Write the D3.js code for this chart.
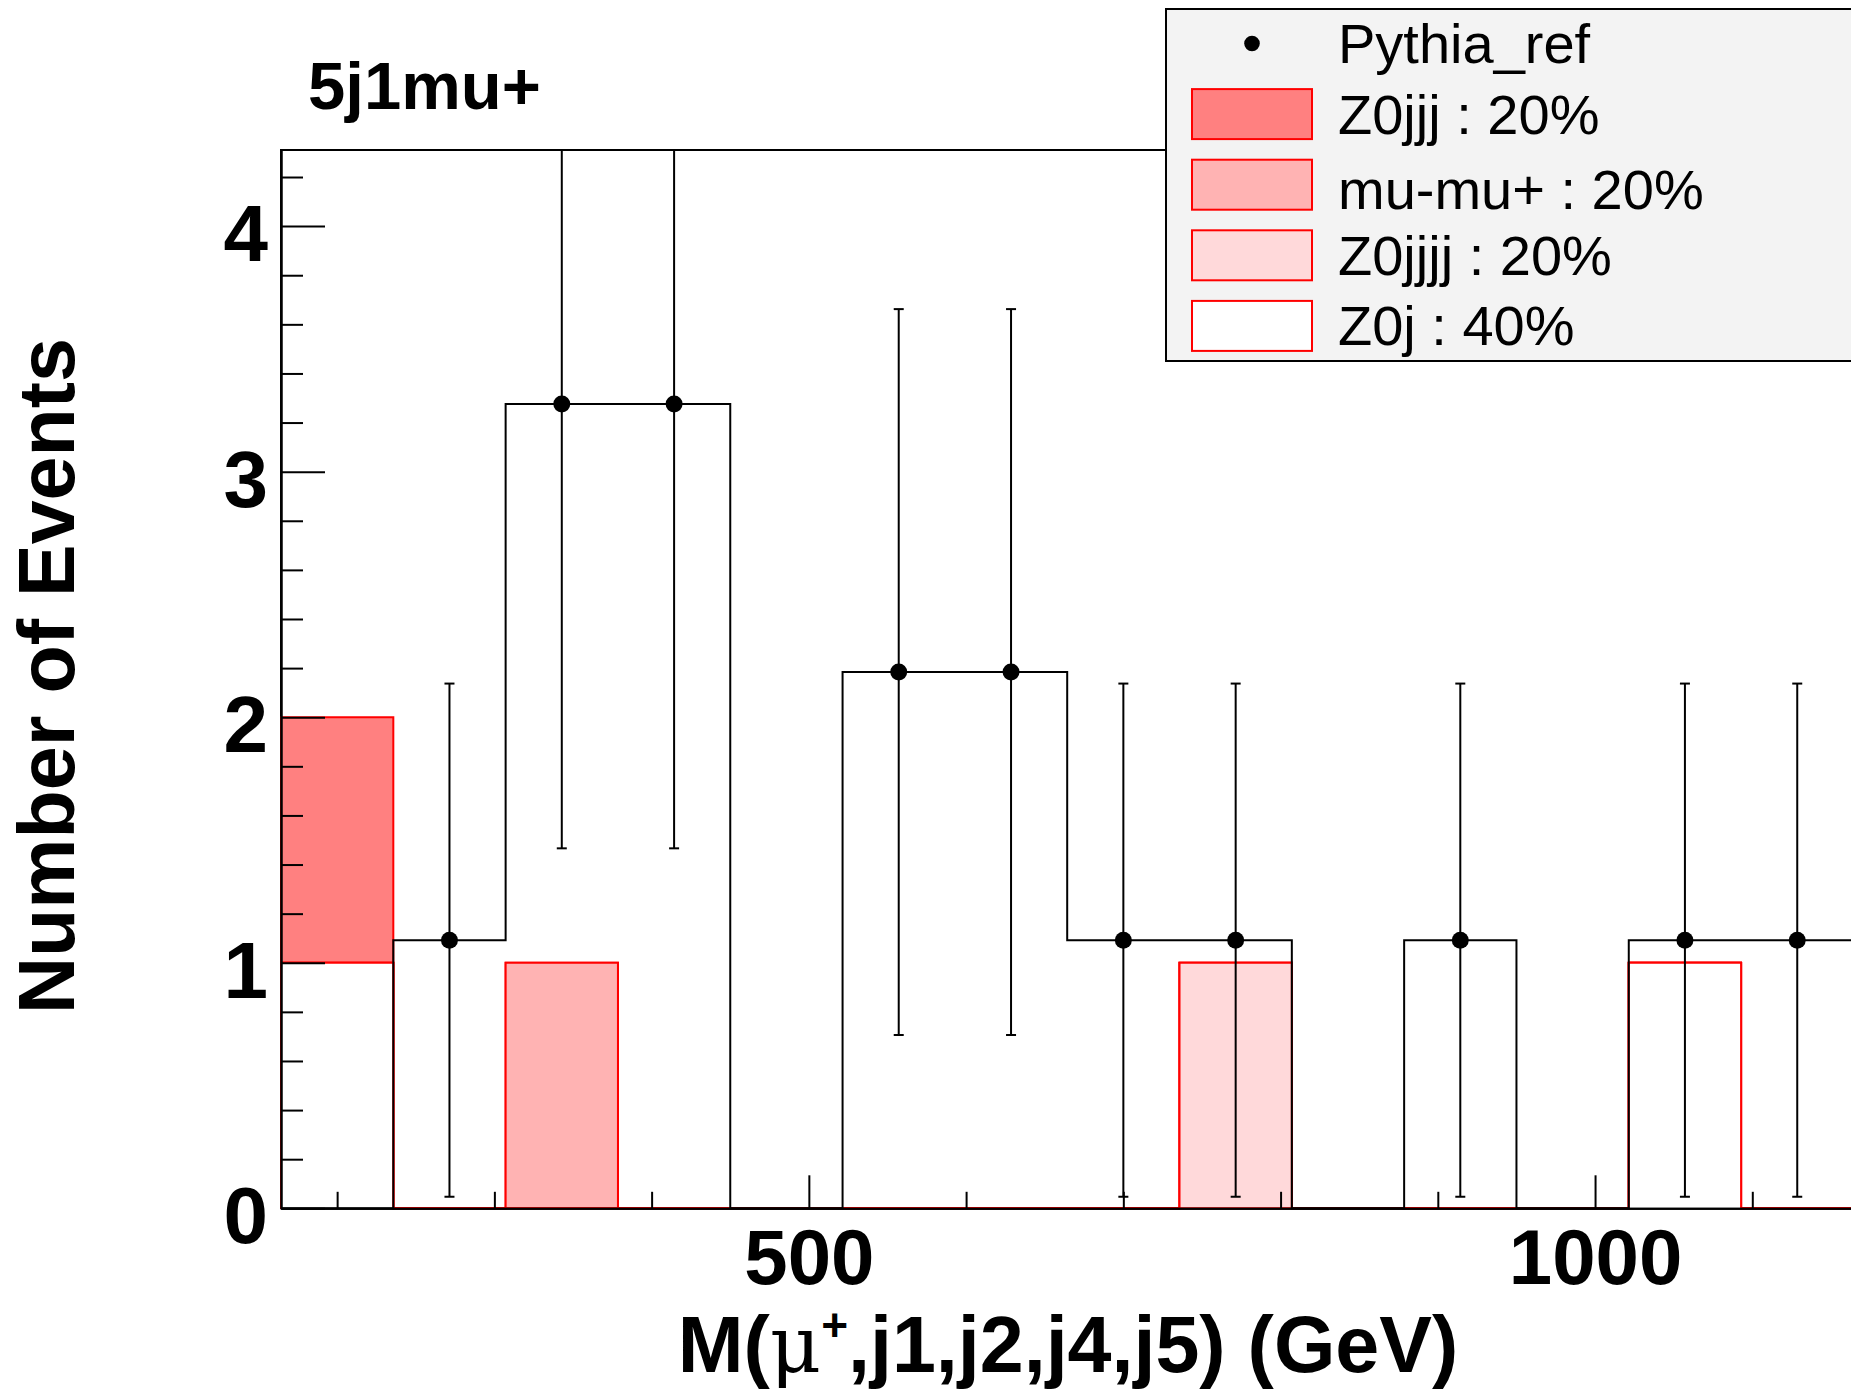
<!DOCTYPE html>
<html><head><meta charset="utf-8">
<script src="https://cdn.jsdelivr.net/npm/d3@7"></script>
<style>body{margin:0;background:#fff;} svg{display:block;}</style>
</head><body>
<svg id="c" width="1851" height="1392"></svg>
<script>
// ---------------- data ----------------
const binCount = 14;
const xDomain = [164.3, 1164.3];
const yDomain = [0, 4.31];
const dataCounts = [0, 1.092, 3.276, 3.276, 0, 2.184, 2.184, 1.092, 1.092, 0, 1.092, 0, 1.092, 1.092];
const dataErrors = [0, 1.045, 1.81, 1.81, 0, 1.478, 1.478, 1.045, 1.045, 0, 1.045, 0, 1.045, 1.045];
const z0j    = [1, 0, 0, 0, 0, 0, 0, 0, 0, 0, 0, 0, 1, 0];
const z0jjjj = [0, 0, 0, 0, 0, 0, 0, 0, 1, 0, 0, 0, 0, 0];
const mumu   = [0, 0, 1, 0, 0, 0, 0, 0, 0, 0, 0, 0, 0, 0];
const z0jjj  = [1, 0, 0, 0, 0, 0, 0, 0, 0, 0, 0, 0, 0, 0];
const stackKeys = ["Z0j", "Z0jjjj", "mu-mu+", "Z0jjj"];           // bottom -> top
const stackFills = {"Z0j": "#ffffff", "Z0jjjj": "#ffd9da", "mu-mu+": "#ffb3b3", "Z0jjj": "#ff8080"};
const legendLabels = ["Pythia_ref", "Z0jjj : 20%", "mu-mu+ : 20%", "Z0jjjj : 20%", "Z0j : 40%"];
const legendKeys = [null, "Z0jjj", "mu-mu+", "Z0jjjj", "Z0j"];
const xMajorTicks = [500, 1000];
const xMinorTicks = [200, 300, 400, 600, 700, 800, 900, 1100];
const yMajorTicks = [0, 1, 2, 3, 4];
const yMinorTicks = [0.2, 0.4, 0.6, 0.8, 1.2, 1.4, 1.6, 1.8, 2.2, 2.4, 2.6, 2.8, 3.2, 3.4, 3.6, 3.8, 4.2];

// ---------------- layout ----------------
const L = 281, R = 1853.4, T = 150, B = 1208.3;
const svg = d3.select("#c");
const x = d3.scaleLinear().domain(xDomain).range([L, R]);
const y = d3.scaleLinear().domain(yDomain).range([B, T]);
const binW = (xDomain[1] - xDomain[0]) / binCount;
const edge = i => xDomain[0] + i * binW;
const center = i => xDomain[0] + (i + 0.5) * binW;

svg.append("defs").append("clipPath").attr("id", "plotclip")
  .append("rect").attr("x", L - 2).attr("y", T).attr("width", R - L + 4).attr("height", B - T + 2);

// frame
svg.append("rect").attr("x", L).attr("y", T).attr("width", R - L).attr("height", B - T)
  .attr("fill", "#fff").attr("stroke", "#000").attr("stroke-width", 2);

const plot = svg.append("g").attr("clip-path", "url(#plotclip)");

// stacked MC, drawn ROOT-style as cumulative histograms, top first
const rows = d3.range(binCount).map(i => ({"Z0j": z0j[i], "Z0jjjj": z0jjjj[i], "mu-mu+": mumu[i], "Z0jjj": z0jjj[i]}));
const stacked = d3.stack().keys(stackKeys)(rows);

function stepPoints(vals) {
  const pts = [[edge(0), 0]];
  vals.forEach((v, i) => { pts.push([edge(i), v]); pts.push([edge(i + 1), v]); });
  pts.push([edge(vals.length), 0]);
  return pts;
}
const line = d3.line().x(d => x(d[0])).y(d => y(d[1]));

for (let k = stacked.length - 1; k >= 0; k--) {
  const layer = stacked[k];
  const tops = layer.map(d => d[1]);
  const pts = stepPoints(tops);
  plot.append("path").attr("d", line(pts) + "Z").attr("fill", stackFills[layer.key]).attr("stroke", "none");
  plot.append("path").attr("d", line(pts)).attr("fill", "none").attr("stroke", "#ff0000").attr("stroke-width", 2);
}

// data histogram outline
plot.append("path").attr("d", line(stepPoints(dataCounts))).attr("fill", "none")
  .attr("stroke", "#000").attr("stroke-width", 2);

// error bars and markers
const pts = d3.range(binCount).filter(i => dataCounts[i] > 0);
const capW = 5;
pts.forEach(i => {
  const cx = x(center(i));
  const lo = dataCounts[i] - dataErrors[i], hi = dataCounts[i] + dataErrors[i];
  plot.append("line").attr("x1", cx).attr("x2", cx).attr("y1", y(lo)).attr("y2", y(hi))
    .attr("stroke", "#000").attr("stroke-width", 2);
  [lo, hi].forEach(v => {
    plot.append("line").attr("x1", cx - capW).attr("x2", cx + capW).attr("y1", y(v)).attr("y2", y(v))
      .attr("stroke", "#000").attr("stroke-width", 2);
  });
});
plot.selectAll("circle.pt").data(pts).enter().append("circle")
  .attr("cx", i => x(center(i))).attr("cy", i => y(dataCounts[i])).attr("r", 8.5).attr("fill", "#000");

// axes
const fontSans = "'Liberation Sans', Arial, Helvetica, sans-serif";
function styleAxis(g) {
  g.select(".domain").attr("stroke", "#000").attr("stroke-width", 2);
  g.selectAll(".tick line").attr("stroke", "#000").attr("stroke-width", 2);
}
const yMinor = svg.append("g").attr("transform", `translate(${L},0)`)
  .call(d3.axisLeft(y).tickValues(yMinorTicks).tickSizeInner(-22).tickSizeOuter(0).tickFormat(""));
styleAxis(yMinor);
const yMajor = svg.append("g").attr("transform", `translate(${L},0)`)
  .call(d3.axisLeft(y).tickValues(yMajorTicks).tickSizeInner(-44).tickSizeOuter(0).tickPadding(13).tickFormat(d3.format("d")));
styleAxis(yMajor);
yMajor.selectAll(".tick text").attr("font-family", fontSans).attr("font-weight", "bold")
  .attr("font-size", 80).attr("fill", "#000").attr("dy", "0.43em");

const xMinor = svg.append("g").attr("transform", `translate(0,${B})`)
  .call(d3.axisBottom(x).tickValues(xMinorTicks).tickSizeInner(-16.5).tickSizeOuter(0).tickFormat(""));
styleAxis(xMinor);
const xMajor = svg.append("g").attr("transform", `translate(0,${B})`)
  .call(d3.axisBottom(x).tickValues(xMajorTicks).tickSizeInner(-33).tickSizeOuter(0).tickPadding(20).tickFormat(d3.format("d")));
styleAxis(xMajor);
xMajor.selectAll(".tick text").attr("font-family", fontSans).attr("font-weight", "bold")
  .attr("font-size", 78).attr("fill", "#000");

// axis titles
const xt = svg.append("text").attr("x", 1068).attr("y", 1372).attr("text-anchor", "middle")
  .attr("font-family", fontSans).attr("font-weight", "bold").attr("font-size", 79).attr("fill", "#000");
xt.append("tspan").text("M(");
xt.append("tspan").attr("font-family", "'DejaVu Serif', 'Liberation Serif', serif").attr("font-weight", "normal").text("\u03BC");
xt.append("tspan").attr("font-size", 46).attr("dy", -31).text("+");
xt.append("tspan").attr("dy", 31).text(",j1,j2,j4,j5) (GeV)");

svg.append("text").attr("transform", "translate(74,676) rotate(-90)").attr("text-anchor", "middle")
  .attr("font-family", fontSans).attr("font-weight", "bold").attr("font-size", 79).attr("fill", "#000")
  .text("Number of Events");

// title
svg.append("text").attr("x", 308).attr("y", 109).attr("font-family", fontSans).attr("font-weight", "bold")
  .attr("font-size", 67).attr("fill", "#000").text("5j1mu+");

// legend
const lg = svg.append("g");
lg.append("rect").attr("x", 1166).attr("y", 9).attr("width", 720).attr("height", 352)
  .attr("fill", "#f3f3f3").attr("stroke", "#000").attr("stroke-width", 2);
const rowY = i => 43.5 + i * 70.6;
legendLabels.forEach((lab, i) => {
  const cy = rowY(i);
  const key = legendKeys[i];
  if (key === null) {
    lg.append("circle").attr("cx", 1252).attr("cy", cy).attr("r", 7.8).attr("fill", "#000");
  } else {
    lg.append("rect").attr("x", 1192).attr("y", cy - 25).attr("width", 120).attr("height", 50)
      .attr("fill", stackFills[key]).attr("stroke", "#ff0000").attr("stroke-width", 2);
  }
  const shift = /[A-Z]/.test(lab) ? 0 : 4.5;
  lg.append("text").attr("x", 1338).attr("y", cy + 19.5 + shift).attr("font-family", fontSans)
    .attr("font-size", 56).attr("fill", "#000").text(lab);
});
</script>
</body></html>
